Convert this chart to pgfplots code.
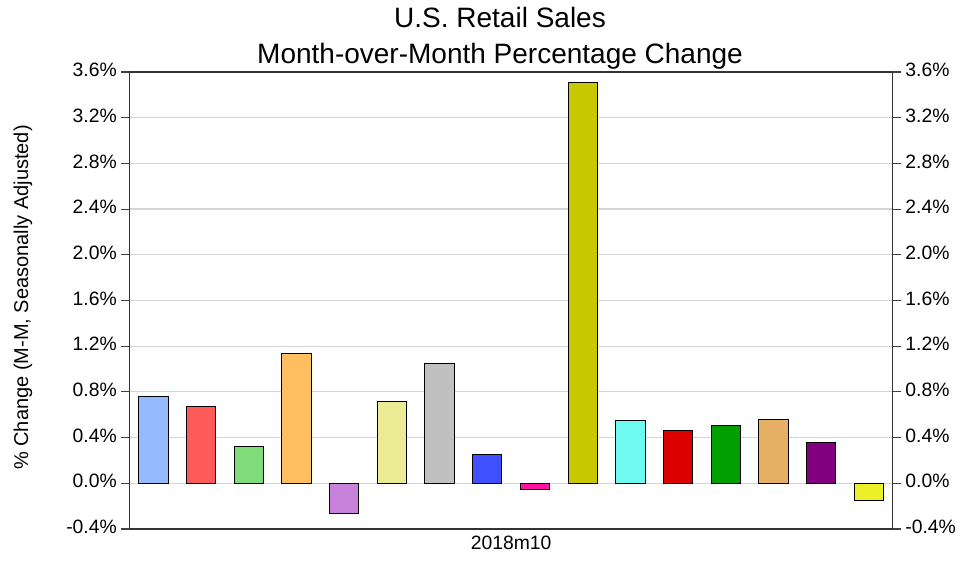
\documentclass[border=0pt]{standalone}
\usepackage{pgfplots}
\pgfplotsset{compat=1.18}
\usepackage{fontspec}
\setmainfont{Liberation Sans}
\definecolor{c1}{RGB}{149,187,255}
\definecolor{c2}{RGB}{255,90,90}
\definecolor{c3}{RGB}{128,220,120}
\definecolor{c4}{RGB}{255,190,95}
\definecolor{c5}{RGB}{200,130,220}
\definecolor{c6}{RGB}{235,235,150}
\definecolor{c7}{RGB}{192,192,192}
\definecolor{c8}{RGB}{64,80,255}
\definecolor{c9}{RGB}{255,20,160}
\definecolor{c10}{RGB}{200,200,0}
\definecolor{c11}{RGB}{110,250,240}
\definecolor{c12}{RGB}{220,0,0}
\definecolor{c13}{RGB}{0,160,0}
\definecolor{c14}{RGB}{230,176,100}
\definecolor{c15}{RGB}{128,0,128}
\definecolor{c16}{RGB}{235,240,40}
\begin{document}
\begin{tikzpicture}
\pgfplotsset{
  common/.style={
    width=572.4pt, height=342.75pt, scale only axis,
    xmin=-0.5, xmax=15.5, ymin=-0.4, ymax=3.6,
    ytick={-0.4,0,0.4,0.8,1.2,1.6,2.0,2.4,2.8,3.2,3.6},
    xtick=\empty,
    yticklabel={\pgfmathprintnumber[fixed,fixed zerofill,precision=1]{\tick}\%},
    /pgf/number format/assume math mode=true,
    tick align=outside, major tick length=6pt,
    tick style={black!75, line width=0.8pt},
    axis line style={black!80, line width=1pt},
    yticklabel style={font=\fontsize{14.5}{17}\selectfont, yshift=1.5pt},
  }
}
\path[use as bounding box] (-97.125pt,-26.25pt) rectangle (623.625pt,396.75pt);
\begin{axis}[common,
  ytick pos=left,
  ymajorgrids, grid style={black!17, line width=0.9pt},
  bar shift=0pt,
]
\addplot[ybar, bar width=0.615, bar shift=0pt, fill=c1, draw=black, line width=0.7pt] coordinates {(0,0.76)};
\addplot[ybar, bar width=0.615, bar shift=0pt, fill=c2, draw=black, line width=0.7pt] coordinates {(1,0.67)};
\addplot[ybar, bar width=0.615, bar shift=0pt, fill=c3, draw=black, line width=0.7pt] coordinates {(2,0.32)};
\addplot[ybar, bar width=0.615, bar shift=0pt, fill=c4, draw=black, line width=0.7pt] coordinates {(3,1.14)};
\addplot[ybar, bar width=0.615, bar shift=0pt, fill=c5, draw=black, line width=0.7pt] coordinates {(4,-0.26)};
\addplot[ybar, bar width=0.615, bar shift=0pt, fill=c6, draw=black, line width=0.7pt] coordinates {(5,0.72)};
\addplot[ybar, bar width=0.615, bar shift=0pt, fill=c7, draw=black, line width=0.7pt] coordinates {(6,1.05)};
\addplot[ybar, bar width=0.615, bar shift=0pt, fill=c8, draw=black, line width=0.7pt] coordinates {(7,0.25)};
\addplot[ybar, bar width=0.615, bar shift=0pt, fill=c9, draw=black, line width=0.7pt] coordinates {(8,-0.05)};
\addplot[ybar, bar width=0.615, bar shift=0pt, fill=c10, draw=black, line width=0.7pt] coordinates {(9,3.51)};
\addplot[ybar, bar width=0.615, bar shift=0pt, fill=c11, draw=black, line width=0.7pt] coordinates {(10,0.55)};
\addplot[ybar, bar width=0.615, bar shift=0pt, fill=c12, draw=black, line width=0.7pt] coordinates {(11,0.46)};
\addplot[ybar, bar width=0.615, bar shift=0pt, fill=c13, draw=black, line width=0.7pt] coordinates {(12,0.51)};
\addplot[ybar, bar width=0.615, bar shift=0pt, fill=c14, draw=black, line width=0.7pt] coordinates {(13,0.56)};
\addplot[ybar, bar width=0.615, bar shift=0pt, fill=c15, draw=black, line width=0.7pt] coordinates {(14,0.36)};
\addplot[ybar, bar width=0.615, bar shift=0pt, fill=c16, draw=black, line width=0.7pt] coordinates {(15,-0.15)};
\end{axis}
\begin{axis}[common,
  axis y line*=right, hide x axis,
]
\end{axis}
\node[anchor=base, font=\fontsize{21}{25}\selectfont] at (277.9pt,376.3pt) {U.S. Retail Sales};
\node[anchor=base, font=\fontsize{21}{25}\selectfont] at (277.9pt,349.3pt) {Month-over-Month Percentage Change};
\node[anchor=base, font=\fontsize{14.5}{17}\selectfont] at (286.2pt,-15.2pt) {2018m10};
\node[rotate=90, anchor=base, font=\fontsize{15}{18}\selectfont] at (-76.1pt,173.6pt) {\% Change (M-M, Seasonally Adjusted)};
\end{tikzpicture}
\end{document}
